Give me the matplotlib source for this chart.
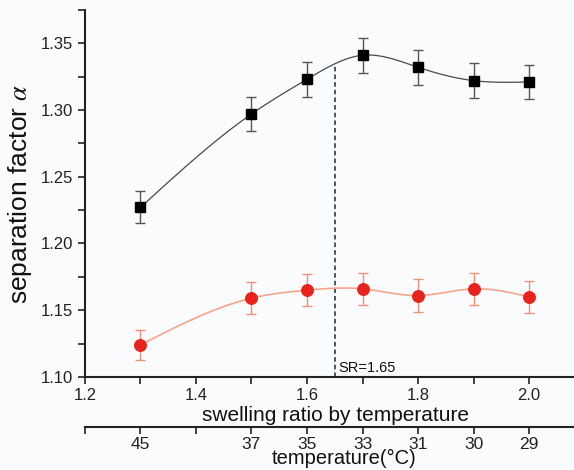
import numpy as np
import matplotlib
matplotlib.use("Agg")
import matplotlib.pyplot as plt

plt.rcParams["font.family"] = ["Liberation Sans", "DejaVu Sans"]
plt.rcParams["mathtext.fontset"] = "stix"

# data
swelling = [1.3, 1.5, 1.6, 1.7, 1.8, 1.9, 2.0]
temps = ["45", "37", "35", "33", "31", "30", "29"]
alpha_black = [1.227, 1.297, 1.323, 1.341, 1.332, 1.322, 1.321]
err_black = [0.012, 0.013, 0.013, 0.013, 0.013, 0.013, 0.013]
alpha_red = [1.124, 1.159, 1.165, 1.166, 1.161, 1.166, 1.160]
err_red = [0.011, 0.012, 0.012, 0.012, 0.012, 0.012, 0.012]
sr_mark = 1.65


def natural_spline(x, y, n=300):
    x = np.asarray(x, float); y = np.asarray(y, float)
    k = len(x); h = np.diff(x)
    A = np.zeros((k, k)); b = np.zeros(k)
    A[0, 0] = A[-1, -1] = 1
    for i in range(1, k - 1):
        A[i, i - 1] = h[i - 1]; A[i, i] = 2 * (h[i - 1] + h[i]); A[i, i + 1] = h[i]
        b[i] = 6 * ((y[i + 1] - y[i]) / h[i] - (y[i] - y[i - 1]) / h[i - 1])
    M = np.linalg.solve(A, b)
    xs = np.linspace(x[0], x[-1], n)
    idx = np.clip(np.searchsorted(x, xs) - 1, 0, k - 2)
    x0 = x[idx]; x1 = x[idx + 1]; hh = x1 - x0
    ys = (M[idx] * (x1 - xs) ** 3 / (6 * hh) + M[idx + 1] * (xs - x0) ** 3 / (6 * hh)
          + (y[idx] / hh - M[idx] * hh / 6) * (x1 - xs)
          + (y[idx + 1] / hh - M[idx + 1] * hh / 6) * (xs - x0))
    return xs, ys


bg = "#fafbfd"
fig = plt.figure(figsize=(5.74, 4.70), dpi=100, facecolor=bg)
ax = fig.add_axes([0.148, 0.198, 0.852, 0.781], facecolor=bg)

xs, ys = natural_spline(swelling, alpha_black)
ax.plot(xs, ys, color="#4a4a4a", lw=0.9, zorder=2)
ax.errorbar(swelling, alpha_black, yerr=err_black, fmt="s", color="black",
            ms=7.8, ecolor="#555555", elinewidth=1, capsize=3.5, capthick=1, zorder=3)

xs, ys = natural_spline(swelling, alpha_red)
ax.plot(xs, ys, color="#f5a58c", lw=1.2, zorder=2)
ax.errorbar(swelling, alpha_red, yerr=err_red, fmt="o", color="#e8231b",
            ms=8.3, ecolor="#f0907a", elinewidth=1, capsize=3.5, capthick=1, zorder=3)

ax.plot([sr_mark, sr_mark], [1.10, 1.334], ls=(0, (3, 2)), color="#1a2a3a", lw=1.1, zorder=1)
ax.text(sr_mark + 0.006, 1.1015, "SR=1.65", fontsize=10.5, color="#111111",
        ha="left", va="bottom")

ax.set_xlim(1.2, 2.081)
ax.set_ylim(1.10, 1.375)
ax.set_xticks([1.2, 1.4, 1.6, 1.8, 2.0])
ax.set_xticks([1.3, 1.5, 1.7, 1.9], minor=True)
ax.set_yticks([1.10, 1.15, 1.20, 1.25, 1.30, 1.35])
ax.set_yticks([1.125, 1.175, 1.225, 1.275, 1.325, 1.375], minor=True)
ax.set_yticklabels(["1.10", "1.15", "1.20", "1.25", "1.30", "1.35"])
ax.set_xticklabels(["1.2", "1.4", "1.6", "1.8", "2.0"])
for s in ["top", "right"]:
    ax.spines[s].set_visible(False)
for s in ["left", "bottom"]:
    ax.spines[s].set_linewidth(1.5)
    ax.spines[s].set_color("#222222")
ax.tick_params(which="both", direction="out", length=5, width=1.2, color="#222222",
               labelsize=12, labelcolor="#222222")
ax.tick_params(axis="x", pad=3)
ax.set_xlabel("swelling ratio by temperature", fontsize=15, color="#111111")
ax.xaxis.set_label_coords(0.513, -0.078, transform=ax.transAxes)
ax.set_ylabel("separation factor $\\mathit{\\alpha}$", fontsize=19, color="#111111")
ax.yaxis.set_label_coords(-0.104, 0.5, transform=ax.transAxes)

ax2 = ax.twiny()
ax2.set_xlim(ax.get_xlim())
ax2.xaxis.set_ticks_position("bottom")
ax2.spines["bottom"].set_position(("outward", 36))
for s in ["top", "right", "left"]:
    ax2.spines[s].set_visible(False)
ax2.spines["bottom"].set_linewidth(1.5)
ax2.spines["bottom"].set_color("#222222")
ax2.set_xticks(swelling)
ax2.set_xticklabels(temps)
ax2.set_xticks([1.2, 1.4], minor=True)
ax2.tick_params(which="both", direction="out", length=5, width=1.2, color="#222222",
                labelsize=12.5, labelcolor="#222222", pad=2)
ax2.patch.set_visible(False)
fig.text(344 / 574, 1 - 464 / 470, "temperature(°C)", fontsize=14.5, color="#111111",
         ha="center", va="baseline")

fig.savefig("out.png", dpi=100, facecolor=bg)
